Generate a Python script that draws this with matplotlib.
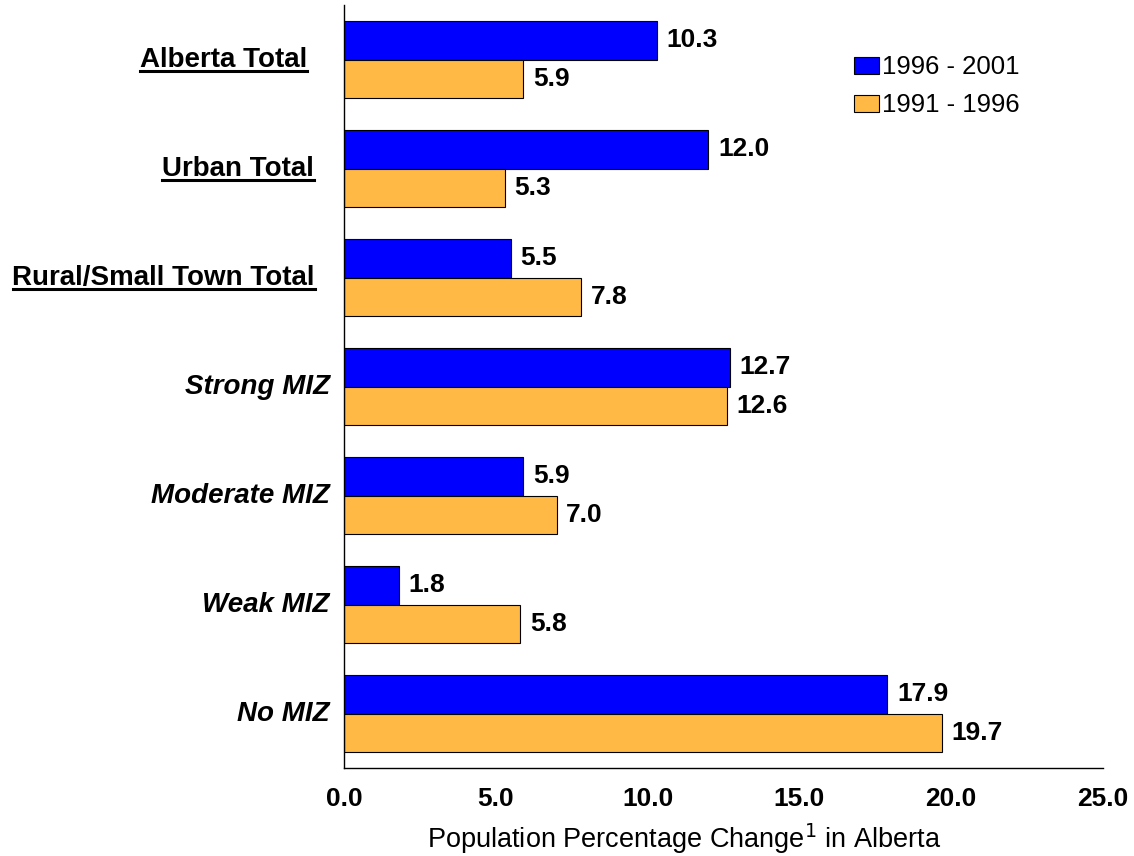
import matplotlib
matplotlib.use("Agg")
import matplotlib.pyplot as plt
import matplotlib.transforms as mtransforms
from matplotlib.lines import Line2D
import numpy as np

plt.rcParams['font.family'] = ['Liberation Sans', 'DejaVu Sans']

categories = ["Alberta Total", "Urban Total", "Rural/Small Town Total",
              "Strong MIZ", "Moderate MIZ", "Weak MIZ", "No MIZ"]
underlined = [True, True, True, False, False, False, False]
series_1996_2001 = [10.3, 12.0, 5.5, 12.7, 5.9, 1.8, 17.9]
series_1991_1996 = [5.9, 5.3, 7.8, 12.6, 7.0, 5.8, 19.7]
series_names = ["1996 - 2001", "1991 - 1996"]
xticks = [0, 5, 10, 15, 20, 25]

DPI = 100
fig = plt.figure(figsize=(11.34, 8.56), dpi=DPI)
ax = fig.add_axes([344/1134, 1-768/856, (1103-344)/1134, (768-5)/856])

y = np.arange(len(categories))
h = 0.35
b1 = ax.barh(y - h/2, series_1996_2001, height=h, color='#0000FF',
             edgecolor='black', linewidth=0.8, label=series_names[0])
b2 = ax.barh(y + h/2, series_1991_1996, height=h, color='#FFB944',
             edgecolor='black', linewidth=0.8, label=series_names[1])
ax.bar_label(b1, fmt='%.1f', padding=7, fontsize=19, fontweight='bold')
ax.bar_label(b2, fmt='%.1f', padding=7, fontsize=19, fontweight='bold')

ax.set_ylim(len(categories) - 0.5, -0.5)
ax.set_xlim(0, 25)
ax.set_xticks(xticks)
ax.set_xticklabels([f"{v:.1f}" for v in xticks], fontsize=19, fontweight='bold')
ax.tick_params(axis='x', length=0, pad=14)
ax.set_yticks([])
for s in ['top', 'right']:
    ax.spines[s].set_visible(False)
for s in ['left', 'bottom']:
    ax.spines[s].set_linewidth(1.0)

ax.set_xlabel("Population Percentage Change$^1$ in Alberta", fontsize=19.5)
ax.xaxis.set_label_coords((684-344)/759, -0.070)

offsets_px = [-37, -30, -29, -14, -14, -14, -14]
texts = []
for i, (cat, ul) in enumerate(zip(categories, underlined)):
    trans = mtransforms.blended_transform_factory(ax.transAxes, ax.transData) + \
        mtransforms.ScaledTranslation(offsets_px[i]/DPI, 0, fig.dpi_scale_trans)
    t = ax.text(0, i, cat, transform=trans, ha='right', va='center',
                fontsize=20, fontweight='bold',
                fontstyle='normal' if ul else 'italic')
    texts.append((t, ul))

leg = ax.legend(loc='upper left', bbox_to_anchor=(0.6715, 0.934), frameon=False,
                fontsize=18.5, handlelength=1.0, handleheight=0.62,
                handletextpad=0.12, labelspacing=0.55, borderaxespad=0,
                borderpad=0)

fig.canvas.draw()
renderer = fig.canvas.get_renderer()
for t, ul in texts:
    if not ul:
        continue
    bb = t.get_window_extent(renderer)
    yline = bb.y0 + 1.5
    fig.add_artist(Line2D([bb.x0/fig.bbox.width, bb.x1/fig.bbox.width],
                          [yline/fig.bbox.height, yline/fig.bbox.height],
                          transform=fig.transFigure, color='black', linewidth=2.2))

fig.savefig("out.png", dpi=DPI)
